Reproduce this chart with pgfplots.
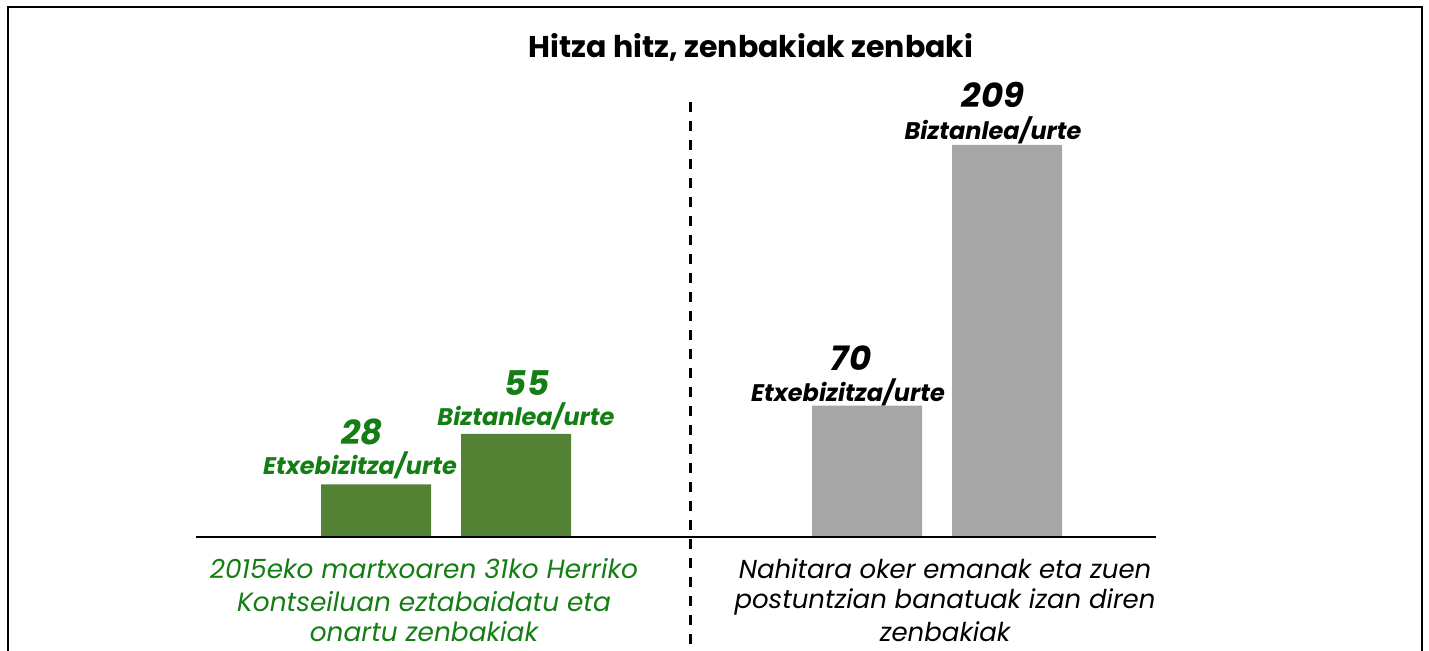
\documentclass[border=0pt]{standalone}
\usepackage{pgfplots}
\pgfplotsset{compat=1.18}
\usepackage{fontspec}
\setmainfont{Poppins}
\definecolor{bargreen}{RGB}{84,130,53}
\definecolor{bargray}{RGB}{166,166,166}
\definecolor{txtgreen}{RGB}{20,125,20}
\begin{document}
\begin{tikzpicture}
\begin{axis}[
  scale only axis,
  width=714.5pt, height=268.5pt,
  xmin=0, xmax=1429, ymin=0, ymax=286.25,
  axis lines=none,
  clip=false,
  ybar, bar width=55pt,
]
\addplot[ybar, bar shift=0pt, fill=bargreen, draw=none] coordinates {(376,28) (516,55)};
\addplot[ybar, bar shift=0pt, fill=bargray, draw=none] coordinates {(867,70) (1007,209)};
% frame, baseline, divider
\draw[line width=1.1pt] (axis cs:8,-60.77) -- (axis cs:8,282.5) -- (axis cs:1422,282.5) -- (axis cs:1422,-60.77);
\draw[line width=1.2pt] (axis cs:196,0) -- (axis cs:1156,0);
\draw[line width=1.5pt, dash pattern=on 5pt off 4.5pt] (axis cs:690,231.8) -- (axis cs:690,-60.77);
% title
\node[font=\bfseries\fontsize{15}{17}\selectfont] at (axis cs:751,260.7) {Hitza hitz, zenbakiak zenbaki};
% labels
\node[text=txtgreen, font=\bfseries\itshape\fontsize{17}{19}\selectfont] at (axis cs:362,56.0) {28};
\node[text=txtgreen, font=\bfseries\itshape\fontsize{12}{14}\selectfont] at (axis cs:360,38.4) {Etxebizitza/urte};
\node[text=txtgreen, font=\bfseries\itshape\fontsize{17}{19}\selectfont] at (axis cs:527,82.1) {55};
\node[text=txtgreen, font=\bfseries\itshape\fontsize{12}{14}\selectfont] at (axis cs:526,64.5) {Biztanlea/urte};
\node[font=\bfseries\itshape\fontsize{17}{19}\selectfont] at (axis cs:851,95.4) {70};
\node[font=\bfseries\itshape\fontsize{12}{14}\selectfont] at (axis cs:848,77.3) {Etxebizitza/urte};
\node[font=\bfseries\itshape\fontsize{17}{19}\selectfont] at (axis cs:993,235.6) {209};
\node[font=\bfseries\itshape\fontsize{12}{14}\selectfont] at (axis cs:993,217.0) {Biztanlea/urte};
% bottom texts
\node[text=txtgreen, font=\itshape\fontsize{13.2}{15}\selectfont] at (axis cs:424,-17.0) {2015eko martxoaren 31ko Herriko};
\node[text=txtgreen, font=\itshape\fontsize{13.2}{15}\selectfont] at (axis cs:424,-34.5) {Kontseiluan eztabaidatu eta};
\node[text=txtgreen, font=\itshape\fontsize{13.2}{15}\selectfont] at (axis cs:424,-50.5) {onartu zenbakiak};
\node[font=\itshape\fontsize{13}{15}\selectfont] at (axis cs:945,-17.0) {Nahitara oker emanak eta zuen};
\node[font=\itshape\fontsize{13}{15}\selectfont] at (axis cs:945,-34.5) {postuntzian banatuak izan diren};
\node[font=\itshape\fontsize{13}{15}\selectfont] at (axis cs:945,-50.5) {zenbakiak};
\coordinate (bbA) at (axis cs:0,-60.77);
\coordinate (bbB) at (axis cs:1429,286.25);
\end{axis}
\pgfresetboundingbox
\useasboundingbox (bbA) rectangle (bbB);
\end{tikzpicture}
\end{document}
